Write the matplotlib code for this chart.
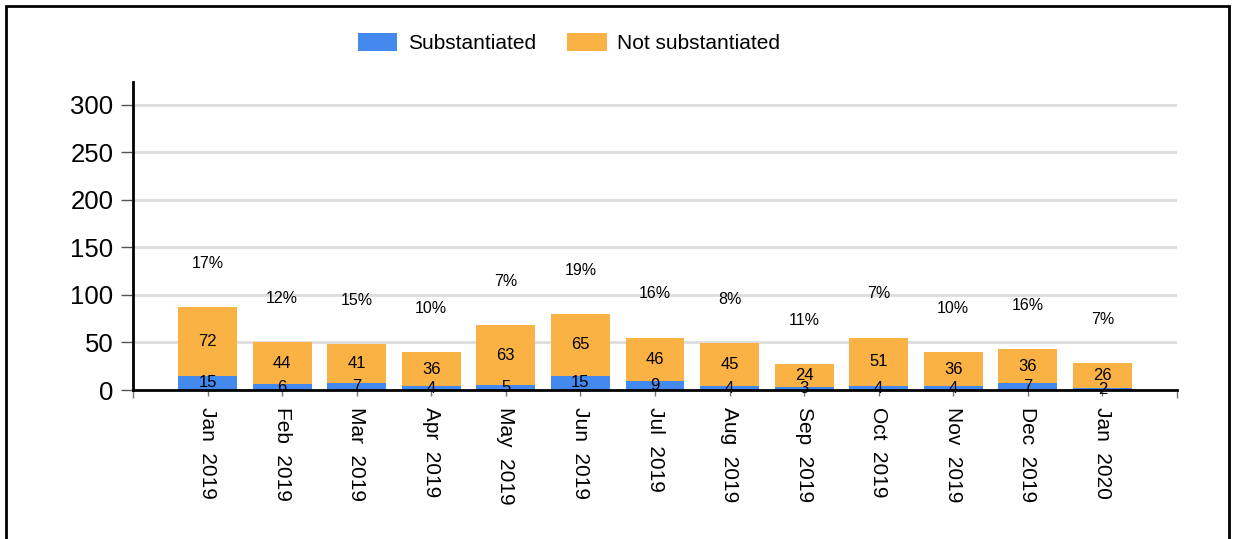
import matplotlib.pyplot as plt
import matplotlib.patches as mpatches
import numpy as np

plt.rcParams['font.family'] = ['Liberation Sans', 'DejaVu Sans']

# --- datos ---
months = ["Jan  2019", "Feb  2019", "Mar  2019", "Apr  2019", "May  2019", "Jun  2019",
          "Jul  2019", "Aug  2019", "Sep  2019", "Oct  2019", "Nov  2019", "Dec  2019",
          "Jan  2020"]
substantiated = [15, 6, 7, 4, 5, 15, 9, 4, 3, 4, 4, 7, 2]
not_substantiated = [72, 44, 41, 36, 63, 65, 46, 45, 24, 51, 36, 36, 26]

blue = "#4489EE"
orange = "#FBB244"

sub = np.array(substantiated)
nsub = np.array(not_substantiated)
total = sub + nsub
x = np.arange(len(months))

fig = plt.figure(figsize=(12.33, 5.39), dpi=100)
ax = fig.add_axes([133 / 1233, 1 - 390 / 539, (1177 - 133) / 1233, (390 - 82) / 539])

# marco exterior
fig.patches.append(mpatches.Rectangle((6 / 1233, -0.1), 1223 / 1233, 1.1 - 7 / 539 + 0.002,
                                      transform=fig.transFigure, fill=False,
                                      edgecolor="black", linewidth=2))

ax.bar(x, sub, width=0.79, color=blue, label="Substantiated", zorder=3)
ax.bar(x, nsub, width=0.79, bottom=sub, color=orange, label="Not substantiated", zorder=3)

for i in x:
    ax.text(i, sub[i] / 2, str(sub[i]), ha="center", va="center", fontsize=12, zorder=5)
    ax.text(i, sub[i] + nsub[i] / 2, str(nsub[i]), ha="center", va="center", fontsize=12, zorder=5)
    pct = round(100 * sub[i] / total[i])
    ax.text(i, total[i] + 46, f"{pct}%", ha="center", va="center", fontsize=11.5, zorder=5)

ax.set_xlim(-1, 13)
ax.set_ylim(0, 324)
ax.set_yticks([0, 50, 100, 150, 200, 250, 300])
ax.tick_params(axis="y", labelsize=18.5, length=9, width=1, color="#555555", pad=5)
ax.set_xticks(x)
ax.set_xticklabels(months, rotation=-90, fontsize=15)
ax.tick_params(axis="x", length=4, width=1, color="#777777", pad=8)
ax.set_xticks([-1, 13], minor=True)
ax.tick_params(axis="x", which="minor", length=6, width=1, color="#777777")

ax.grid(axis="y", color="#dddddd", linewidth=2, zorder=0)
ax.set_axisbelow(True)
for s in ["top", "right"]:
    ax.spines[s].set_visible(False)
ax.spines["left"].set_linewidth(2)
ax.spines["bottom"].set_linewidth(2)
ax.spines["bottom"].set_zorder(4)

fig.legend(loc="center", bbox_to_anchor=(569 / 1233, 1 - 43 / 539), ncol=2, frameon=False,
           fontsize=15, handlelength=1.9, handleheight=1.0, columnspacing=1.5, handletextpad=0.5)

plt.savefig("out.png", dpi=100)
